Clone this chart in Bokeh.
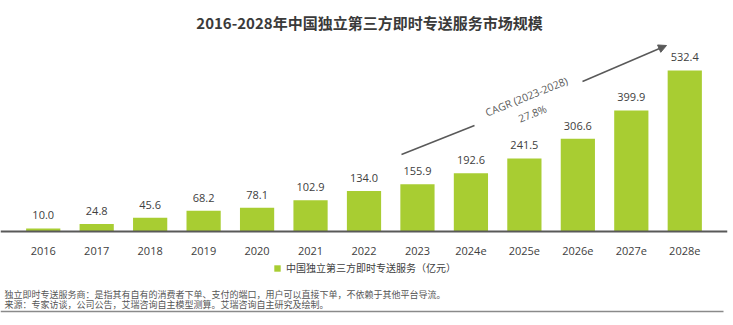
import math
from bokeh.plotting import figure
from bokeh.models import (ColumnDataSource, FactorRange, Range1d, Label, Arrow,
                          NormalHead, Legend, LegendItem)
from bokeh.core.properties import value
from bokeh.embed import file_html
from bokeh.resources import INLINE

# ---- data ----
years = ["2016", "2017", "2018", "2019", "2020", "2021", "2022",
         "2023", "2024e", "2025e", "2026e", "2027e", "2028e"]
market = [10.0, 24.8, 45.6, 68.2, 78.1, 102.9, 134.0,
          155.9, 192.6, 241.5, 306.6, 399.9, 532.4]
value_labels = [f"{v:.1f}" for v in market]
title_text = "2016-2028年中国独立第三方即时专送服务市场规模"
series_name = "中国独立第三方即时专送服务（亿元）"
cagr_text = "CAGR (2023-2028)"
cagr_value = "27.8%"
note_1 = "独立即时专送服务商：是指其有自有的消费者下单、支付的端口，用户可以直接下单，不依赖于其他平台导流。"
note_2 = "来源：专家访谈，公司公告，艾瑞咨询自主模型测算。艾瑞咨询自主研究及绘制。"

W, H = 733, 325
BASE = 231            # canvas y of the baseline
PX_PER_UNIT = 0.3026  # vertical scale
STEP = 53.46          # px per category
PAD = 16              # px padding each side of categories
FRAME_W = 13 * STEP + 2 * PAD

GREEN = "#A8CD32"
TXT = "#404040"
CJK = "Noto Sans CJK SC"
NUM = "Open Sans"

src = ColumnDataSource(dict(x=years, top=market, lab=value_labels))

p = figure(width=W, height=H,
           x_range=FactorRange(*years, range_padding=2 * PAD / STEP / 13),
           y_range=Range1d(-(H - BASE) / PX_PER_UNIT, BASE / PX_PER_UNIT),
           output_backend="svg", toolbar_location=None,
           min_border_left=0, min_border_right=int(round(W - FRAME_W)),
           min_border_top=0, min_border_bottom=0)
p.outline_line_color = None
p.grid.visible = False
p.yaxis.visible = False
p.background_fill_color = "white"
p.border_fill_color = "white"

bars = p.vbar(x="x", top="top", width=0.64, bottom=0, source=src,
              fill_color=GREEN, line_color=None)
p.text(x="x", y="top", text="lab", source=src, text_align="center",
       text_baseline="middle", y_offset=-13, text_font=value(NUM),
       text_font_size="11px", text_color=TXT)

ax = p.xaxis[0]
ax.fixed_location = 0
ax.axis_line_color = "#595959"
ax.axis_line_width = 2
ax.major_tick_line_color = None
ax.minor_tick_line_color = None
ax.major_label_standoff = 9
ax.major_label_text_font = NUM
ax.major_label_text_font_size = "11px"
ax.major_label_text_color = TXT


def lab(text, cx, cy, size, color=TXT, font=CJK, style="normal", align="center",
        angle=0.0):
    p.add_layout(Label(x=cx, y=H - cy, x_units="screen", y_units="screen",
                       text=text, text_align=align, text_baseline="middle",
                       text_font=font, text_font_size=size, text_color=color,
                       text_font_style=style, angle=angle))


lab(title_text, 369, 22, "15px", color="#3a3a3a", style="bold")

# CAGR arrow
ang = math.radians(22)
p.add_layout(Arrow(x_start=401, y_start=H - 154, x_end=474, y_end=H - 125,
                   start_units="screen", end_units="screen", end=None,
                   line_color="#595959", line_width=1.5))
p.add_layout(Arrow(x_start=582, y_start=H - 81, x_end=666, y_end=H - 45,
                   start_units="screen", end_units="screen",
                   end=NormalHead(size=8, fill_color="#595959", line_color="#595959"),
                   line_color="#595959", line_width=1.5))
lab(cagr_text, 526, 96, "10.5px", color="#595959", font=NUM, angle=ang)
lab(cagr_value, 532, 113, "10.5px", color="#595959", font=NUM, angle=ang)

# legend
legend = Legend(items=[LegendItem(label=series_name, renderers=[bars])],
                location=(273, H - 275), orientation="horizontal",
                glyph_width=8, glyph_height=8, label_height=10, label_width=10,
                label_standoff=5, padding=0, margin=0, spacing=0,
                label_text_font=CJK, label_text_font_size="10px",
                label_text_color=TXT, border_line_color=None,
                background_fill_alpha=0)
p.add_layout(legend, "center")

# footnotes
lab(note_1, 4, 294, "9px", color="#555555", align="left")
lab(note_2, 4, 304, "9px", color="#555555", align="left")
p.add_layout(Arrow(x_start=0, y_start=H - 311, x_end=723, y_end=H - 311,
                   start_units="screen", end_units="screen", end=None,
                   line_color="#8a8a8a", line_width=1.5))

open("out.html", "w").write(file_html(p, INLINE))
